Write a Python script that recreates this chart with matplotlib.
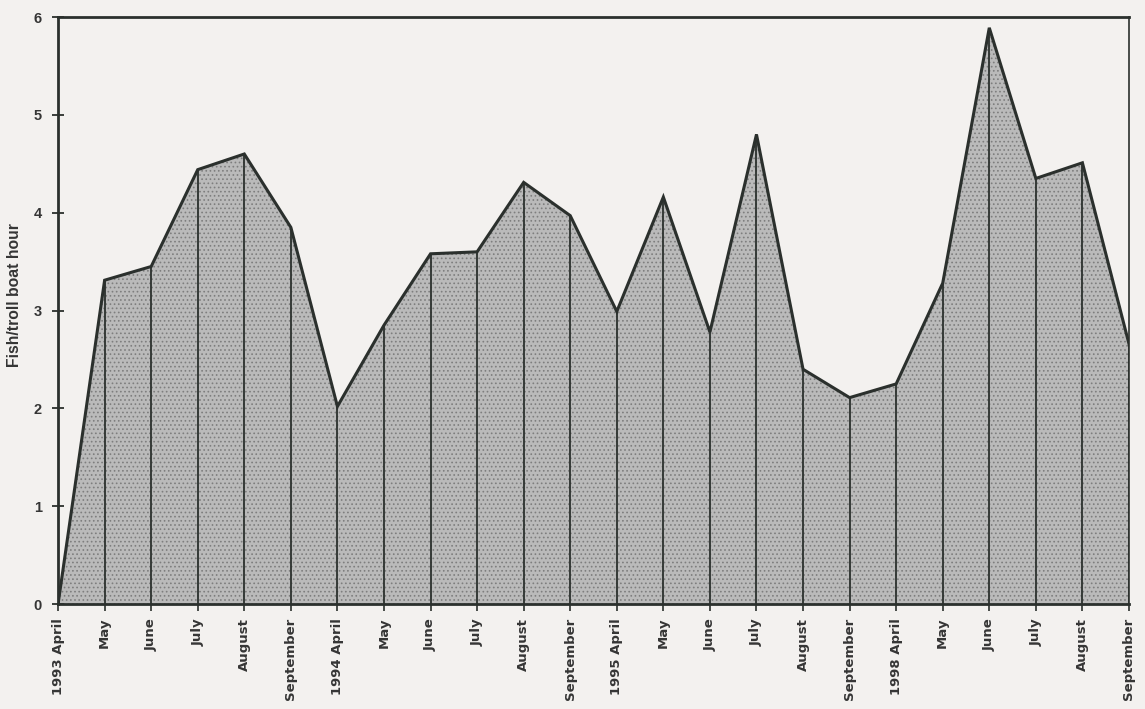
import matplotlib
matplotlib.use("Agg")
import matplotlib.pyplot as plt
import matplotlib.transforms as mtransforms
import numpy as np

# Monthly troll catch rates, April-September seasons
months = ["1993 April", "May", "June", "July", "August", "September",
          "1994 April", "May", "June", "July", "August", "September",
          "1995 April", "May", "June", "July", "August", "September",
          "1998 April", "May", "June", "July", "August", "September"]
catch_rate = [0.0, 3.31, 3.45, 4.44, 4.60, 3.85,
              2.02, 2.85, 3.58, 3.60, 4.31, 3.97,
              2.99, 4.16, 2.78, 4.80, 2.40, 2.11,
              2.25, 3.28, 5.89, 4.35, 4.51, 2.66]
y_ticks = [0, 1, 2, 3, 4, 5, 6]
y_label = "Fish/troll boat hour"

ink = "#2b302d"
text_col = "#353535"
paper = "#f3f1ef"
plt.rcParams["hatch.linewidth"] = 0.7

fig = plt.figure(figsize=(11.45, 7.09), dpi=100, facecolor=paper)
ax = fig.add_axes([0.0507, 0.148, 0.9353, 0.828], facecolor=paper)

x = np.arange(len(months))
y = np.array(catch_rate)

ax.fill_between(x, 0, y, facecolor="#bababa", edgecolor="#7e7e7e",
                hatch="....", linewidth=0, zorder=1)
ax.vlines(x, 0, y, color=ink, linewidth=1.3, zorder=2)
ax.plot(x, y, color=ink, linewidth=2.2, solid_joinstyle="miter", zorder=3)

ax.set_xlim(0, len(months) - 1)
ax.set_ylim(0, 6)
ax.set_yticks(y_ticks)
ax.set_yticklabels([str(t) for t in y_ticks], fontsize=10.5,
                   fontweight="bold", family="Liberation Sans", color=text_col)
ax.set_xticks(x)
ax.set_xticklabels(months, rotation=90, fontsize=9.5, fontweight="bold",
                   family="DejaVu Sans", color=text_col)
shift = mtransforms.ScaledTranslation(3 / 100, 0, fig.dpi_scale_trans)
for lbl in ax.get_xticklabels():
    lbl.set_transform(lbl.get_transform() + shift)
ax.tick_params(axis="y", direction="inout", length=9, width=1.3, color=ink, pad=7)
ax.tick_params(axis="x", direction="out", length=5, width=1.2, color=ink, pad=5)

for side in ["left", "bottom", "top"]:
    ax.spines[side].set_color(ink)
    ax.spines[side].set_linewidth(2.0)
ax.spines["right"].set_color(ink)
ax.spines["right"].set_linewidth(1.2)

ax.set_ylabel(y_label, fontsize=11.3, fontweight="bold", family="Liberation Sans",
              color=text_col)
ax.yaxis.set_label_coords(-0.034, 0.526)

fig.savefig("out.png", dpi=100, facecolor=paper)
